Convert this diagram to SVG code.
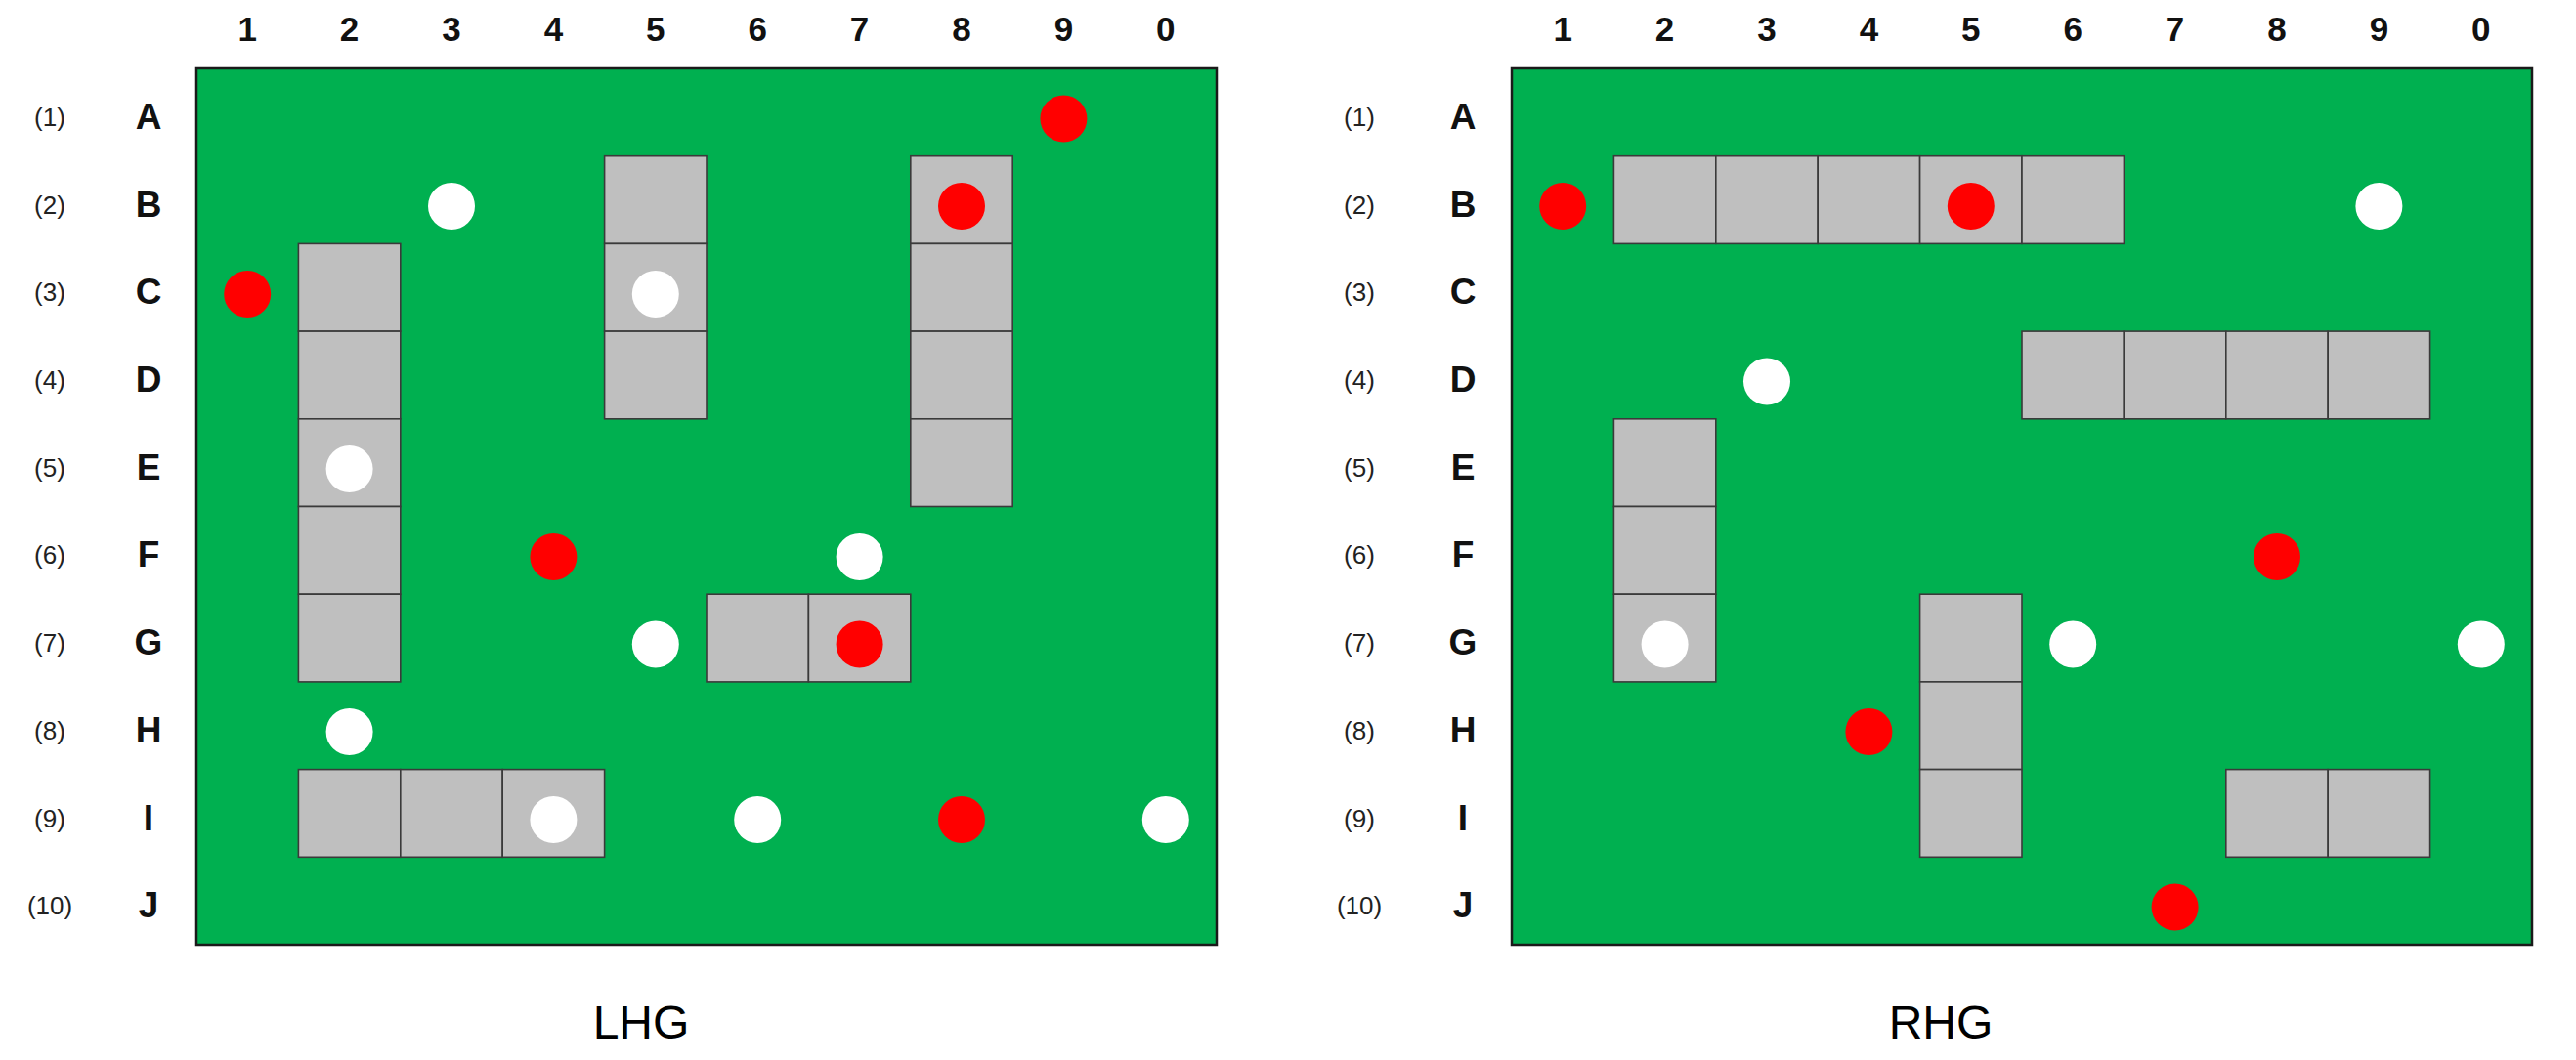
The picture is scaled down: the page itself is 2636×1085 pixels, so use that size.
<svg xmlns="http://www.w3.org/2000/svg" width="2636" height="1085" viewBox="0 0 2636 1085">
<style>
.bg{fill:#ffffff}
.board{fill:#00B050;stroke:#1a1a1a;stroke-width:2.5}
.cell{fill:#BFBFBF;stroke:#3a3a3a;stroke-width:1.6}
.red{fill:#FF0000}
.white{fill:#FFFFFF}
.col{font-family:"Liberation Sans",Arial,sans-serif;font-weight:bold;font-size:35px;fill:#111;text-anchor:middle}
.row{font-family:"Liberation Sans",Arial,sans-serif;font-weight:bold;font-size:37px;fill:#111;text-anchor:middle}
.num{font-family:"Liberation Sans",Arial,sans-serif;font-size:26px;fill:#222;text-anchor:middle}
.title{font-family:"Liberation Sans",Arial,sans-serif;font-size:48px;fill:#000;text-anchor:middle}
</style>
<defs>
<rect id="c" class="cell" width="104.4" height="89.7"/>
</defs>
<rect class="bg" x="0" y="0" width="2636" height="1085"/>

<!-- LEFT -->
<g id="lhg-labels">
<text class="col" x="253.2" y="42">1</text><text class="col" x="357.6" y="42">2</text><text class="col" x="462" y="42">3</text><text class="col" x="566.4" y="42">4</text><text class="col" x="670.8" y="42">5</text><text class="col" x="775.2" y="42">6</text><text class="col" x="879.6" y="42">7</text><text class="col" x="984" y="42">8</text><text class="col" x="1088.4" y="42">9</text><text class="col" x="1192.8" y="42">0</text>
<text class="row" x="152" y="132">A</text><text class="row" x="152" y="221.5">B</text><text class="row" x="152" y="311">C</text><text class="row" x="152" y="401">D</text><text class="row" x="152" y="490.5">E</text><text class="row" x="152" y="580">F</text><text class="row" x="152" y="670">G</text><text class="row" x="152" y="760">H</text><text class="row" x="152" y="849.5">I</text><text class="row" x="152" y="939">J</text>
<text class="num" x="51" y="129">(1)</text><text class="num" x="51" y="218.5">(2)</text><text class="num" x="51" y="308">(3)</text><text class="num" x="51" y="398">(4)</text><text class="num" x="51" y="487.5">(5)</text><text class="num" x="51" y="577">(6)</text><text class="num" x="51" y="667">(7)</text><text class="num" x="51" y="757">(8)</text><text class="num" x="51" y="846.5">(9)</text><text class="num" x="51" y="936">(10)</text>
<text class="title" x="656" y="1063">LHG</text>
</g>
<g id="lhg-board"><rect class="board" x="201" y="70" width="1044" height="897"/></g>
<g id="lhg-block-col2">
<use href="#c" x="305.4" y="249.4"/><use href="#c" x="305.4" y="339.1"/><use href="#c" x="305.4" y="428.8"/><use href="#c" x="305.4" y="518.5"/><use href="#c" x="305.4" y="608.2"/>
</g>
<g id="lhg-block-col5">
<use href="#c" x="618.6" y="159.7"/><use href="#c" x="618.6" y="249.4"/><use href="#c" x="618.6" y="339.1"/>
</g>
<g id="lhg-block-col8">
<use href="#c" x="931.8" y="159.7"/><use href="#c" x="931.8" y="249.4"/><use href="#c" x="931.8" y="339.1"/><use href="#c" x="931.8" y="428.8"/>
</g>
<g id="lhg-block-rowG">
<use href="#c" x="723" y="608.2"/><use href="#c" x="827.4" y="608.2"/>
</g>
<g id="lhg-block-rowI">
<use href="#c" x="305.4" y="787.6"/><use href="#c" x="409.8" y="787.6"/><use href="#c" x="514.2" y="787.6"/>
</g>
<g id="lhg-red">
<circle class="red" cx="1088.4" cy="121.5" r="24"/><circle class="red" cx="253.2" cy="301" r="24"/><circle class="red" cx="984" cy="211" r="24"/><circle class="red" cx="566.4" cy="570" r="24"/><circle class="red" cx="879.6" cy="659.5" r="24"/><circle class="red" cx="984" cy="839" r="24"/>
</g>
<g id="lhg-white">
<circle class="white" cx="462" cy="211" r="24"/><circle class="white" cx="670.8" cy="301" r="24"/><circle class="white" cx="357.6" cy="480" r="24"/><circle class="white" cx="879.6" cy="570" r="24"/><circle class="white" cx="670.8" cy="659.5" r="24"/><circle class="white" cx="357.6" cy="749" r="24"/><circle class="white" cx="566.4" cy="839" r="24"/><circle class="white" cx="775.2" cy="839" r="24"/><circle class="white" cx="1192.8" cy="839" r="24"/>
</g>

<!-- RIGHT -->
<g id="rhg-labels">
<text class="col" x="1599.2" y="42">1</text><text class="col" x="1703.6" y="42">2</text><text class="col" x="1808" y="42">3</text><text class="col" x="1912.4" y="42">4</text><text class="col" x="2016.8" y="42">5</text><text class="col" x="2121.2" y="42">6</text><text class="col" x="2225.6" y="42">7</text><text class="col" x="2330" y="42">8</text><text class="col" x="2434.4" y="42">9</text><text class="col" x="2538.8" y="42">0</text>
<text class="row" x="1497" y="132">A</text><text class="row" x="1497" y="221.5">B</text><text class="row" x="1497" y="311">C</text><text class="row" x="1497" y="401">D</text><text class="row" x="1497" y="490.5">E</text><text class="row" x="1497" y="580">F</text><text class="row" x="1497" y="670">G</text><text class="row" x="1497" y="760">H</text><text class="row" x="1497" y="849.5">I</text><text class="row" x="1497" y="939">J</text>
<text class="num" x="1391" y="129">(1)</text><text class="num" x="1391" y="218.5">(2)</text><text class="num" x="1391" y="308">(3)</text><text class="num" x="1391" y="398">(4)</text><text class="num" x="1391" y="487.5">(5)</text><text class="num" x="1391" y="577">(6)</text><text class="num" x="1391" y="667">(7)</text><text class="num" x="1391" y="757">(8)</text><text class="num" x="1391" y="846.5">(9)</text><text class="num" x="1391" y="936">(10)</text>
<text class="title" x="1986" y="1063">RHG</text>
</g>
<g id="rhg-board"><rect class="board" x="1547" y="70" width="1044" height="897"/></g>
<g id="rhg-block-rowB">
<use href="#c" x="1651.4" y="159.7"/><use href="#c" x="1755.8" y="159.7"/><use href="#c" x="1860.2" y="159.7"/><use href="#c" x="1964.6" y="159.7"/><use href="#c" x="2069" y="159.7"/>
</g>
<g id="rhg-block-rowD">
<use href="#c" x="2069" y="339.1"/><use href="#c" x="2173.4" y="339.1"/><use href="#c" x="2277.8" y="339.1"/><use href="#c" x="2382.2" y="339.1"/>
</g>
<g id="rhg-block-col2">
<use href="#c" x="1651.4" y="428.8"/><use href="#c" x="1651.4" y="518.5"/><use href="#c" x="1651.4" y="608.2"/>
</g>
<g id="rhg-block-col5">
<use href="#c" x="1964.6" y="608.2"/><use href="#c" x="1964.6" y="697.9"/><use href="#c" x="1964.6" y="787.6"/>
</g>
<g id="rhg-block-rowI">
<use href="#c" x="2277.8" y="787.6"/><use href="#c" x="2382.2" y="787.6"/>
</g>
<g id="rhg-red">
<circle class="red" cx="1599.2" cy="211" r="24"/><circle class="red" cx="2016.8" cy="211" r="24"/><circle class="red" cx="2330" cy="570" r="24"/><circle class="red" cx="1912.4" cy="749" r="24"/><circle class="red" cx="2225.6" cy="928.5" r="24"/>
</g>
<g id="rhg-white">
<circle class="white" cx="2434.4" cy="211" r="24"/><circle class="white" cx="1808" cy="390.5" r="24"/><circle class="white" cx="1703.6" cy="659.5" r="24"/><circle class="white" cx="2121.2" cy="659.5" r="24"/><circle class="white" cx="2538.8" cy="659.5" r="24"/>
</g>
<g id="connectors"></g>
</svg>
